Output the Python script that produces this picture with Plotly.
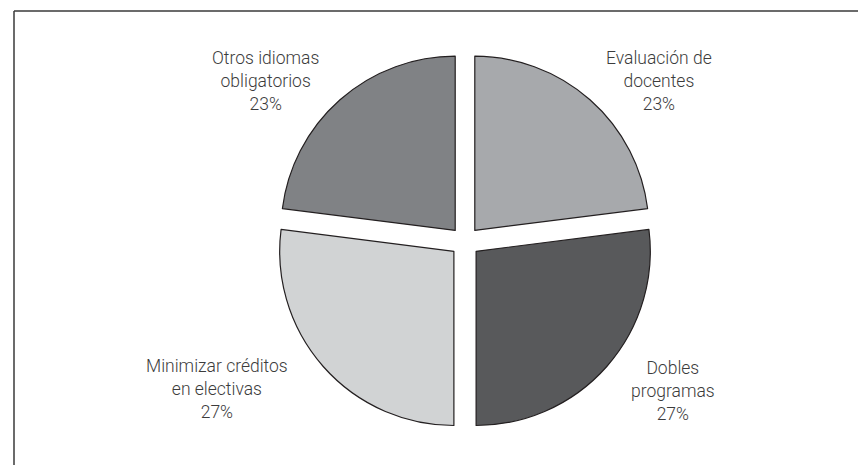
import plotly.graph_objects as go

labels = ["Evaluación de<br>docentes", "Dobles<br>programas",
          "Minimizar créditos<br>en electivas", "Otros idiomas<br>obligatorios"]
values = [23, 27, 27, 23]
colors = ["#a7a9ac", "#58595b", "#d1d3d4", "#808285"]

# label anchor spots (px from top-left of the 866x465 page)
label_pos = [(651, 73), (665, 383), (209, 381), (257, 73)]

W, H = 866, 465
cx, cy, half = 457, 233.5, 189

fig = go.Figure(go.Pie(
    labels=labels,
    values=values,
    sort=False,
    direction="clockwise",
    rotation=0,
    pull=[0.085] * 4,
    marker=dict(colors=colors, line=dict(color="#231f20", width=1.2)),
    textinfo="none",
    hoverinfo="label+percent",
    showlegend=False,
    domain=dict(x=[(cx - half) / W, (cx + half) / W],
                y=[(H - cy - half) / H, (H - cy + half) / H]),
))

total = sum(values)
for lab, v, (px, py) in zip(labels, values, label_pos):
    fig.add_annotation(
        x=px / W, y=1 - py / H, xref="paper", yref="paper",
        text=f"{lab}<br>{round(100 * v / total)}%",
        showarrow=False, align="center", xanchor="center", yanchor="middle",
        font=dict(family="Roboto", size=17.5, color="#3c3c3c", weight=300),
    )

# partial frame on the left and top
fig.add_shape(type="line", xref="paper", yref="paper",
              x0=6 / W, x1=6 / W, y0=0, y1=1 - 3 / H,
              line=dict(color="#3a3a3a", width=1.5))
fig.add_shape(type="line", xref="paper", yref="paper",
              x0=6 / W, x1=1, y0=1 - 3 / H, y1=1 - 3 / H,
              line=dict(color="#3a3a3a", width=1.5))

fig.update_layout(
    width=W, height=H,
    margin=dict(l=0, r=0, t=0, b=0),
    paper_bgcolor="white",
    plot_bgcolor="white",
)

fig.write_html("out.html")
